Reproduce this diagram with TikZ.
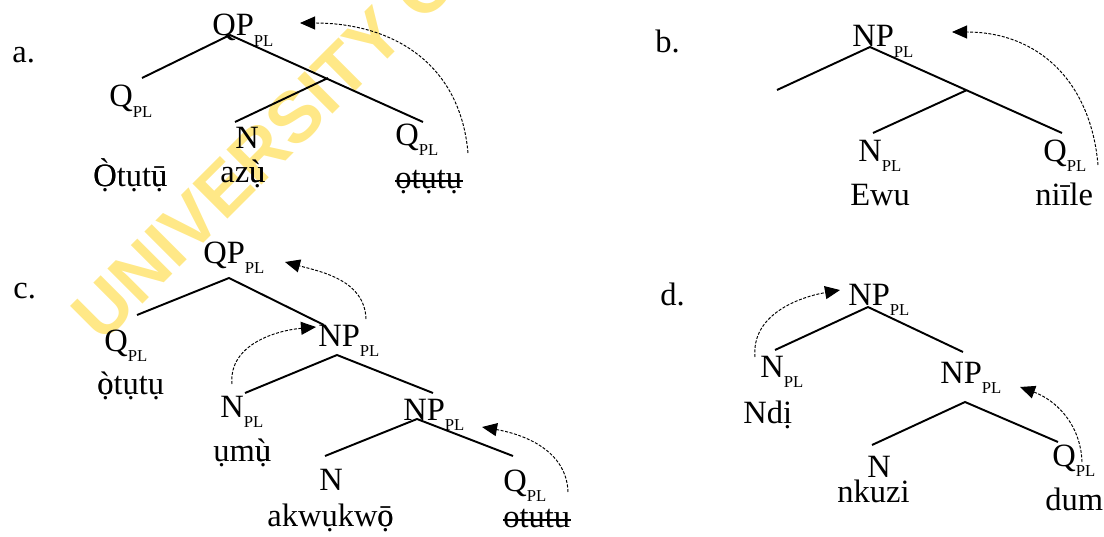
\documentclass[tikz,border=0pt]{standalone}
\usepackage{fontspec}
\setmainfont{Liberation Serif}
\newfontfamily\wmfont{Liberation Sans}
\usetikzlibrary{arrows.meta}
\definecolor{wmyellow}{RGB}{255,232,135}
\newcommand{\catfont}{\fontsize{18.5}{22}\selectfont}
\newcommand{\pl}{\raisebox{-6.2pt}{\fontsize{9.5}{10}\selectfont PL}}
% letter carrying two marks: tone mark over dotted vowel
\newcommand{\ov}[2]{\rlap{#1}#2}
\tikzset{
  cat/.style    = { anchor=base west, inner sep=0pt, font=\catfont },
  branch/.style = { line width=1.1pt },
  strike/.style = { line width=0.7pt },
  move/.style   = { line width=0.55pt, dash pattern=on 1.7pt off 0.9pt, -{Triangle[length=3mm,width=2.6mm]} },
  wmark/.style  = { rotate=45, text=wmyellow, font={\wmfont\bfseries\fontsize{41}{41}\selectfont} }
}

\begin{document}
\begin{tikzpicture}
  \useasboundingbox (0,0) rectangle (22.08,-10.74);
  % Draw watermark
  \begin{scope}
    \clip (0,0) rectangle (22.08,-10.74);
    \node[wmark] (wm) at (5.30,-2.94) {UNIVERSITY O};
  \end{scope}

  % Draw tree a
  \node[cat] (la)  at (0.24,-1.26) {a.};
  \node[cat] (qpa) at (4.24,-0.72) {QP\pl};
  \node[cat] (qa)  at (2.18,-2.14) {Q\pl};
  \node[cat] (na)  at (4.70,-2.96) {N};
  \node[cat] (qa2) at (7.90,-2.90) {Q\pl};
  \node[cat] (wa1) at (1.86,-3.72) {\ov{Ò}{Ọ}tụt\ov{ū}{ụ}};
  \node[cat] (wa2) at (4.40,-3.66) {az\ov{ù}{ụ}};
  \node[cat] (wa3) at (7.90,-3.76) {ọtụtụ};
  \draw[strike] ([yshift=4pt]wa3.base west) -- ([yshift=4pt]wa3.base east);
  \coordinate (a0) at (4.60,-0.70);
  \coordinate (aL) at (2.84,-1.56);
  \coordinate (aM) at (6.56,-1.56);
  \coordinate (aR) at (8.46,-2.44);
  \coordinate (aN) at (4.70,-2.44);
  \coordinate (aS) at (9.36,-3.06);
  \coordinate (aT) at (6.00,-0.46);
  \draw[branch] (aL) -- (a0) -- (aR) (aM) -- (aN);
  \draw[move] (aS) to[out=95,in=0,looseness=1.1] (aT);

  % Draw tree b
  \node[cat] (lb)  at (13.10,-1.06) {b.};
  \node[cat] (npb) at (17.04,-0.94) {NP\pl};
  \node[cat] (nb)  at (17.16,-3.22) {N\pl};
  \node[cat] (qb)  at (20.86,-3.22) {Q\pl};
  \node[cat] (wb1) at (17.00,-4.10) {Ewu};
  \node[cat] (wb2) at (20.70,-4.10) {niīle};
  \coordinate (b0) at (17.40,-0.94);
  \coordinate (bL) at (15.54,-1.80);
  \coordinate (bM) at (19.34,-1.80);
  \coordinate (bR) at (21.24,-2.66);
  \coordinate (bN) at (17.46,-2.66);
  \coordinate (bS) at (21.96,-3.30);
  \coordinate (bT) at (19.04,-0.64);
  \draw[branch] (bL) -- (b0) -- (bR) (bM) -- (bN);
  \draw[move] (bS) to[out=95,in=0,looseness=1.1] (bT);

  % Draw tree c
  \node[cat] (lc)   at (0.26,-5.96) {c.};
  \node[cat] (qpc)  at (4.06,-5.26) {QP\pl};
  \node[cat] (qc)   at (2.08,-7.02) {Q\pl};
  \node[cat] (wc1)  at (1.94,-7.88) {\ov{ò}{ọ}tụtụ};
  \node[cat] (npc)  at (6.36,-6.92) {NP\pl};
  \node[cat] (nc)   at (4.40,-8.34) {N\pl};
  \node[cat] (wc2)  at (4.26,-9.22) {ụm\ov{ù}{ụ}};
  \node[cat] (npc2) at (8.06,-8.40) {NP\pl};
  \node[cat] (nc2)  at (6.38,-9.80) {N};
  \node[cat] (wc3)  at (5.34,-10.52) {akwụkw\ov{ō}{ọ}};
  \node[cat] (qc2)  at (10.06,-9.82) {Q\pl};
  \node[cat] (wc4)  at (10.06,-10.54) {otutu};
  \draw[strike] ([yshift=4pt]wc4.base west) -- ([yshift=4pt]wc4.base east);
  \coordinate (c0)  at (4.58,-5.56);
  \coordinate (cL)  at (2.74,-6.30);
  \coordinate (cR)  at (6.48,-6.50);
  \coordinate (c1)  at (6.74,-7.10);
  \coordinate (c1L) at (4.90,-7.86);
  \coordinate (c1R) at (8.66,-7.86);
  \coordinate (c2)  at (8.34,-8.38);
  \coordinate (c2L) at (6.50,-9.12);
  \coordinate (c2R) at (10.26,-9.12);
  \coordinate (cS1) at (7.32,-6.38);
  \coordinate (cT1) at (5.70,-5.24);
  \coordinate (cS2) at (4.64,-7.68);
  \coordinate (cT2) at (6.32,-6.54);
  \coordinate (cS3) at (11.36,-9.84);
  \coordinate (cT3) at (9.64,-8.54);
  \draw[branch] (cL) -- (c0) -- (cR);
  \draw[branch] (c1L) -- (c1) -- (c1R);
  \draw[branch] (c2L) -- (c2) -- (c2R);
  \draw[move] (cS1) to[out=92,in=-15] (cT1);
  \draw[move] (cS2) to[out=95,in=185] (cT2);
  \draw[move] (cS3) to[out=92,in=-10] (cT3);

  % Draw tree d
  \node[cat] (ld)   at (13.20,-6.10) {d.};
  \node[cat] (npd)  at (16.96,-6.10) {NP\pl};
  \node[cat] (nd)   at (15.20,-7.54) {N\pl};
  \node[cat] (wd1)  at (14.86,-8.46) {Ndị};
  \node[cat] (npd2) at (18.80,-7.66) {NP\pl};
  \node[cat] (nd2)  at (17.34,-9.54) {N};
  \node[cat] (wd2)  at (16.74,-10.04) {nkuzi};
  \node[cat] (qd)   at (21.04,-9.32) {Q\pl};
  \node[cat] (wd3)  at (20.90,-10.20) {dum};
  \coordinate (d0)  at (17.36,-6.14);
  \coordinate (dL)  at (15.50,-7.00);
  \coordinate (dR)  at (19.26,-7.04);
  \coordinate (d1)  at (19.30,-8.04);
  \coordinate (d1L) at (17.44,-8.90);
  \coordinate (d1R) at (21.16,-8.84);
  \coordinate (dS1) at (15.10,-7.14);
  \coordinate (dT1) at (16.80,-5.80);
  \coordinate (dS2) at (21.64,-9.24);
  \coordinate (dT2) at (20.40,-7.74);
  \draw[branch] (dL) -- (d0) -- (dR);
  \draw[branch] (d1L) -- (d1) -- (d1R);
  \draw[move] (dS1) to[out=95,in=190] (dT1);
  \draw[move] (dS2) to[out=92,in=-20] (dT2);
\end{tikzpicture}
\end{document}
